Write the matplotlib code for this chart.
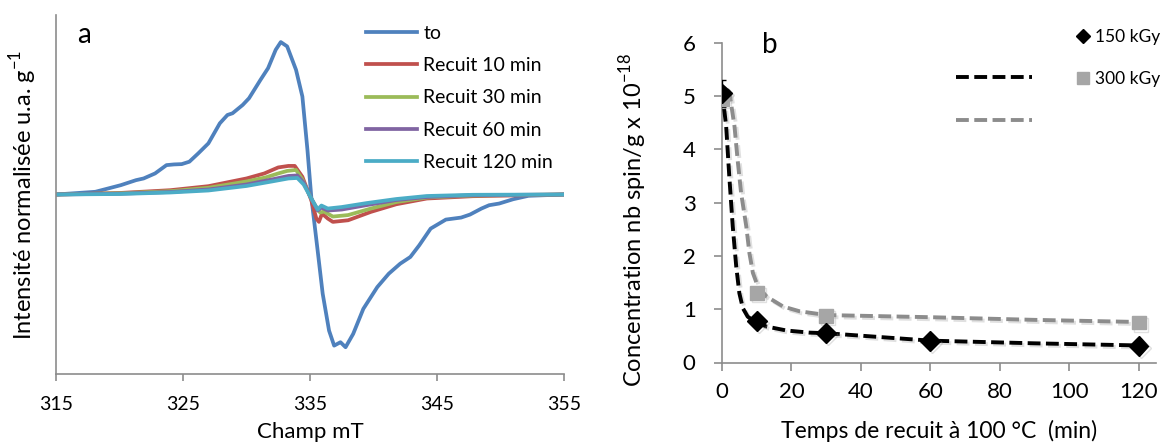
import matplotlib.pyplot as plt
import matplotlib.patheffects as pe
from matplotlib.lines import Line2D

plt.rcParams['font.family'] = ['Lato', 'DejaVu Sans']

# ---- panel a : EPR spectra (arbitrary units) ----
field_to = [315, 318.1, 320.1, 321.3, 321.9, 322.8, 323.7, 324.3, 324.9, 325.5, 326.2, 327.0, 327.9,
            328.5, 328.9, 329.7, 330.2, 331.1, 331.7, 332.3, 332.7, 333.2, 333.9, 334.4, 334.8,
            335.1, 335.6, 336.0, 336.5, 336.9, 337.4, 337.8, 338.4, 339.2, 340.3, 341.2, 342.1,
            342.9, 343.6, 344.5, 345.7, 346.9, 347.6, 348.5, 349.1, 349.9, 351.0, 352.2, 355]
int_to = [0, 2.7, 9.3, 14.3, 16, 21, 29.3, 30, 30.3, 32.7, 41, 51, 71,
          79.3, 81, 89.3, 96, 114.3, 126, 144.3, 152, 147.7, 124.3, 97.7, 44.3,
          -2.3, -55.7, -99, -135.7, -150.7, -147.3, -152.3, -139, -114, -92.3, -79, -69,
          -62.3, -50.7, -34, -25, -23, -20, -14, -10.7, -9, -4.7, -1.3, 0]

field_10 = [315, 320, 324, 327, 330, 331.4, 332.5, 333.3, 333.8, 334.4, 335.1, 335.5, 335.7,
            335.95, 336.4, 336.8, 338, 339.8, 341.8, 344.2, 347.8, 355]
int_10 = [0, 1.5, 4.3, 8.3, 16, 21, 27, 28.5, 28.5, 17.7, -5.7, -24, -27.3,
          -19, -24, -27.3, -25.7, -17.3, -9.7, -4, -1.7, 0]

field_30 = [315, 320, 324, 327, 330, 331.5, 332.5, 333.2, 333.9, 334.4, 335.1, 335.6, 335.8,
            336.1, 336.8, 338, 339.8, 341.8, 344.2, 347.8, 355]
int_30 = [0, 1.2, 3.3, 6.7, 13, 17, 21, 23.5, 24.5, 15, -4, -15, -18,
          -17, -22, -20.5, -14, -7.5, -3, -1, 0]

field_60 = [315, 320, 324, 327, 330, 332, 333.3, 334, 334.5, 335.1, 335.6, 335.9,
            336.4, 337.5, 339.5, 341.8, 344.2, 347.8, 355]
int_60 = [0, 0.8, 2.5, 5, 10, 15, 18.5, 19, 12, -4, -16, -13,
          -16, -15, -10.5, -5.5, -2.5, -0.7, 0]

field_120 = [315, 320, 324, 327, 330, 332, 333.3, 334, 334.5, 335.1, 335.6, 335.9,
             336.4, 337.5, 339.5, 341.8, 344.2, 347.8, 355]
int_120 = [0, 0.5, 2, 4, 8.5, 13, 16, 16.5, 10, -4, -15, -11,
           -14, -12.5, -8.5, -4.5, -1.5, -0.3, 0]

spec_labels = ['to', 'Recuit 10 min', 'Recuit 30 min', 'Recuit 60 min', 'Recuit 120 min']
spec_colors = ['#4F81BD', '#C0504D', '#9BBB59', '#8064A2', '#4BACC6']

# ---- panel b : spin concentration vs annealing time ----
t_150 = [0, 10, 30, 60, 120]
c_150 = [5.05, 0.78, 0.55, 0.40, 0.31]
t_300 = [0, 10, 30, 120]
c_300 = [4.95, 1.30, 0.87, 0.75]

# trend lines
tfit_150 = [0, 1.2, 2.1, 3.1, 4.1, 5.0, 6.0, 7.4, 9.4, 12.8, 18.6, 25.3, 30, 60, 90, 120]
cfit_150 = [5.1, 4.43, 3.49, 2.55, 1.8, 1.3, 1.02, 0.86, 0.77, 0.675, 0.6, 0.56, 0.55, 0.41, 0.36, 0.32]
tfit_300 = [1.5, 2.1, 3.6, 4.5, 5.5, 7.0, 7.9, 8.9, 10.3, 12.8, 17.6, 22.4, 30.1, 60, 90, 120]
cfit_300 = [5.12, 5.08, 4.43, 3.8, 3.18, 2.55, 2.05, 1.68, 1.43, 1.24, 1.05, 0.96, 0.89, 0.85, 0.8, 0.76]

W, H = 1168, 446
fig = plt.figure(figsize=(W / 100, H / 100), dpi=100)

def fig_rect(l, r, t, b):
    return [l / W, 1 - b / H, (r - l) / W, (b - t) / H]

axis_gray = '#8C8C8C'

# ---------------- panel a ----------------
ax1 = fig.add_axes(fig_rect(56, 564, 15, 374))
series = [(field_to, int_to), (field_10, int_10), (field_30, int_30),
          (field_60, int_60), (field_120, int_120)]
handles = []
for (fx, fy), lab, col in zip(series, spec_labels, spec_colors):
    h, = ax1.plot(fx, fy, color=col, lw=2.7, label=lab, solid_joinstyle='round')
    handles.append(h)
ax1.set_xlim(315, 355)
ax1.set_ylim(-179, 179)
ax1.set_xticks([315, 325, 335, 345, 355])
ax1.set_yticks([])
for s in ['top', 'right']:
    ax1.spines[s].set_visible(False)
for s in ['left', 'bottom']:
    ax1.spines[s].set_color(axis_gray)
    ax1.spines[s].set_linewidth(1.2)
ax1.tick_params(axis='x', direction='out', length=5, width=1.2, color=axis_gray,
                labelsize=14, pad=11)
ax1.set_xlabel('Champ mT', fontsize=16, labelpad=6)
ax1.set_ylabel('Intensité normalisée u.a. g$^{\\mathregular{-1}}$', fontsize=17, labelpad=12)
ax1.text(0.042, 0.945, 'a', transform=ax1.transAxes, fontsize=20, va='center')
ax1.legend(handles=handles, loc='upper left', bbox_to_anchor=(366 / W, 1 - 25 / H),
           bbox_transform=fig.transFigure, frameon=False, fontsize=14,
           handlelength=2.6, handletextpad=0.35, labelspacing=0.78,
           borderpad=0, borderaxespad=0)

# ---------------- panel b ----------------
ax2 = fig.add_axes(fig_rect(722, 1156, 42.7, 362.5))
shadow = [pe.SimpleLineShadow(offset=(1.5, -1.5), shadow_color='#9A9A9A', alpha=0.3), pe.Normal()]

f150, = ax2.plot(tfit_150, cfit_150, color='black', lw=2.8, dashes=(3.3, 1.4), zorder=3,
                 path_effects=shadow)
f300, = ax2.plot(tfit_300, cfit_300, color='#8C8C8C', lw=2.8, dashes=(3.3, 1.4), zorder=2,
                 path_effects=shadow)
ax2.errorbar([t_150[0]], [c_150[0]], yerr=[[0.25], [0.25]], fmt='none', ecolor='black',
             elinewidth=1, capsize=3, zorder=4)
m300, = ax2.plot(t_300, c_300, ls='none', marker='s', ms=10, color='#A6A6A6', zorder=4,
                 path_effects=shadow)
m150, = ax2.plot(t_150, c_150, ls='none', marker='D', ms=10, color='black', zorder=5,
                 path_effects=shadow)

ax2.set_xlim(0, 125)
ax2.set_ylim(0, 6)
ax2.set_xticks([0, 20, 40, 60, 80, 100, 120])
ax2.set_yticks([0, 1, 2, 3, 4, 5, 6])
for s in ['top', 'right']:
    ax2.spines[s].set_visible(False)
for s in ['left', 'bottom']:
    ax2.spines[s].set_color(axis_gray)
    ax2.spines[s].set_linewidth(1.2)
ax2.tick_params(direction='out', length=6, width=1.2, color=axis_gray, labelsize=16)
ax2.tick_params(axis='x', pad=8)
ax2.tick_params(axis='y', pad=13)
ax2.set_xlabel('Temps de recuit à 100 °C  (min)', fontsize=16.5, labelpad=13)
ax2.set_ylabel('Concentration nb spin/g x 10$^{\\mathregular{-18}}$', fontsize=17)
ax2.yaxis.set_label_coords(-0.168, 0.445)
ax2.text(762 / W, 1 - 45 / H, 'b', transform=fig.transFigure, fontsize=20, va='center')

mk150 = Line2D([], [], ls='none', marker='D', ms=7, color='black')
mk300 = Line2D([], [], ls='none', marker='s', ms=8, color='#A6A6A6')
leg_a = fig.legend(handles=[mk150, mk300], labels=['150 kGy', '300 kGy'], loc='upper left',
                   bbox_to_anchor=(1074 / W, 1 - 29 / H), bbox_transform=fig.transFigure,
                   frameon=False, fontsize=12.5, handlelength=1.0, handletextpad=0.2,
                   labelspacing=1.5, borderpad=0, borderaxespad=0)
ln150 = Line2D([], [], color='black', lw=2.8, dashes=(3.3, 1.4))
ln300 = Line2D([], [], color='#8C8C8C', lw=2.8, dashes=(3.3, 1.4))
leg_b = fig.legend(handles=[ln150, ln300], labels=['', ''], loc='upper left',
                   bbox_to_anchor=(956 / W, 1 - 70 / H), bbox_transform=fig.transFigure,
                   frameon=False, fontsize=12.5, handlelength=4.4, handletextpad=0,
                   labelspacing=1.55, borderpad=0, borderaxespad=0)

fig.savefig('out.png', dpi=100)
